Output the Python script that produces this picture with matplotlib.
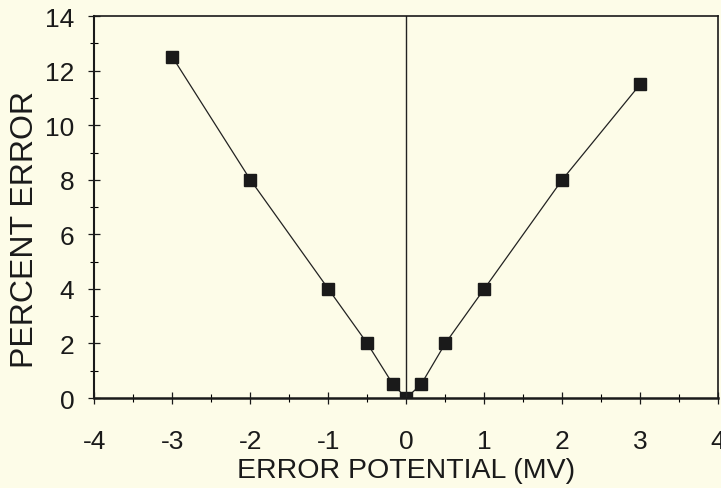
import matplotlib.pyplot as plt
from matplotlib.ticker import MultipleLocator

# error potential (mV) vs percent error
potential = [-3, -2, -1, -0.5, -0.17, 0, 0.19, 0.5, 1, 2, 3]
pct_error = [12.5, 8, 4, 2, 0.5, 0, 0.5, 2, 4, 8, 11.5]

x_ticks = [-4, -3, -2, -1, 0, 1, 2, 3, 4]
x_labels = ['-4', '-3', '-2', '-1', '0', '1', '2', '3', '4']
y_ticks = [0, 2, 4, 6, 8, 10, 12, 14]

bg = '#fdfce8'
plt.rcParams['font.family'] = ['Liberation Sans', 'DejaVu Sans']

fig = plt.figure(figsize=(7.21, 4.89), dpi=100, facecolor=bg)
ax = fig.add_axes([0.131, 0.184, 0.865, 0.781], facecolor=bg)

ax.plot(potential, pct_error, color='#222222', lw=0.9,
        marker='s', ms=8, mfc='#1a1a1a', mec='#1a1a1a')
ax.axvline(0, color='#222222', lw=1.0)

ax.set_xlim(-4, 4)
ax.set_ylim(0, 14)
ax.set_xticks(x_ticks, x_labels)
ax.set_yticks(y_ticks)
ax.xaxis.set_minor_locator(MultipleLocator(0.5))
ax.yaxis.set_minor_locator(MultipleLocator(1))

ax.tick_params(which='major', direction='inout', length=9, width=0.9,
               labelsize=19, colors='#1a1a1a')
ax.tick_params(axis='x', which='major', pad=17.5)
ax.tick_params(axis='y', which='major', pad=10)
ax.tick_params(which='minor', direction='inout', length=6, width=0.8)

for s in ax.spines.values():
    s.set_color('#1a1a1a')
    s.set_linewidth(1.2)
ax.spines['bottom'].set_linewidth(1.8)
ax.spines['left'].set_linewidth(1.5)

ax.set_xlabel('ERROR POTENTIAL (MV)', fontsize=20.5, color='#1a1a1a', labelpad=3)
ax.set_ylabel('PERCENT ERROR', fontsize=23, color='#1a1a1a')
ax.yaxis.set_label_coords(-0.088, 0.444)

fig.savefig('out.png', dpi=100, facecolor=bg)
plt.close()
